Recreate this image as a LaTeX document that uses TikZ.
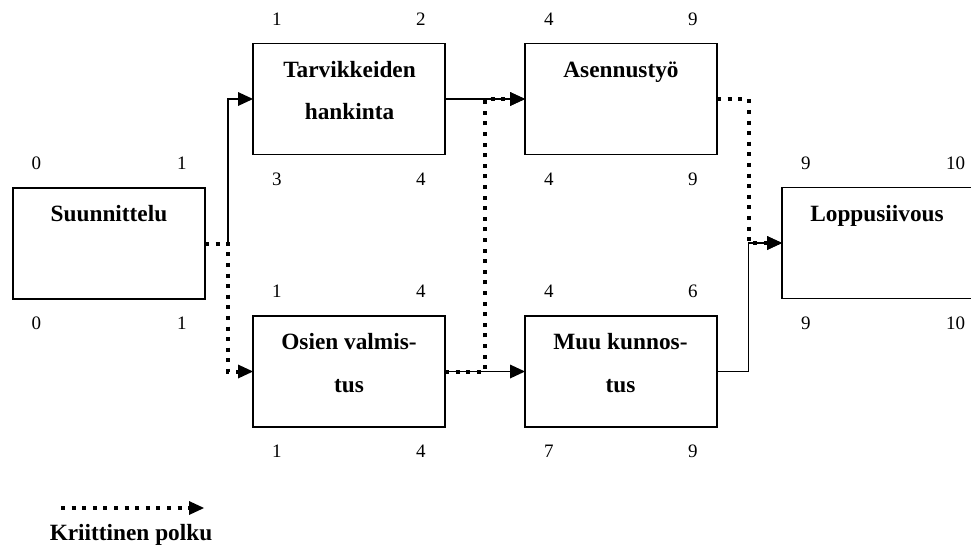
\documentclass[tikz,border=0pt]{standalone}
\usepackage{fontspec}
\setmainfont{Liberation Serif}
\usetikzlibrary{arrows.meta}
\tikzset{
  box/.style={draw, line width=1.8pt, minimum width=192pt, minimum height=111pt, inner sep=0pt, outer sep=0pt},
  title/.style={anchor=base, inner sep=0pt, font=\fontsize{23.3}{28}\selectfont\bfseries},
  num/.style={anchor=base west, inner sep=0pt, font=\fontsize{19}{23}\selectfont},
  tip/.style={-{Triangle[length=15pt,width=14pt,line width=0pt]}},
  conn/.style={tip, line width=1.3pt},
  crit/.style={tip, line width=4pt, line cap=butt, dash pattern=on 4pt off 6.6pt},
}
\begin{document}
\begin{tikzpicture}[x=1pt,y=-1pt]
\useasboundingbox (0,0) rectangle (971,547);
% boxes
\node[box] (s) at (109,243.5) {};
\node[box] (t) at (349,99) {};
\node[box] (a) at (621,99) {};
\node[box] (o) at (349,371.5) {};
\node[box] (m) at (621,371.5) {};
\node[box] (l) at (878,243) {};
% titles
\node[title] (s1) at (109,221) {Suunnittelu};
\node[title] (t1) at (349.5,77) {Tarvikkeiden};
\node[title] (t2) at (349.5,119) {hankinta};
\node[title] (a1) at (621,77) {Asennustyö};
\node[title] (o1) at (349,349) {Osien valmis-};
\node[title] (o2) at (349,392) {tus};
\node[title] (m1) at (620.5,349) {Muu kunnos-};
\node[title] (m2) at (620.5,392) {tus};
\node[title] (l1) at (877,221) {Loppusiivous};
% numbers
\node[num] (sa) at (31.5,169) {0};  \node[num] (sb) at (177,169) {1};
\node[num] (sc) at (31.5,329) {0};  \node[num] (sd) at (177,329) {1};
\node[num] (ta) at (272,25) {1};    \node[num] (tb) at (416,25) {2};
\node[num] (tc) at (272,185) {3};   \node[num] (td) at (416,185) {4};
\node[num] (aa) at (544,25) {4};    \node[num] (ab) at (688,25) {9};
\node[num] (ac) at (544,185) {4};   \node[num] (ad) at (688,185) {9};
\node[num] (oa) at (272,297) {1};   \node[num] (ob) at (416,297) {4};
\node[num] (oc) at (272,457) {1};   \node[num] (od) at (416,457) {4};
\node[num] (ma) at (544,297) {4};   \node[num] (mb) at (688,297) {6};
\node[num] (mc) at (544,457) {7};   \node[num] (md) at (688,457) {9};
\node[num] (la) at (801,169) {9};   \node[num] (lb) at (946,169) {10};
\node[num] (lc) at (801,329) {9};   \node[num] (ld) at (946,329) {10};
% junctions
\coordinate (j1) at (228,243.5);
\coordinate (j2) at (485,371.5);
\coordinate (j3) at (748.5,243);
% solid connectors
\draw[conn] (j1) |- (t.west);
\draw[conn] (t.east) -- (a.west);
\draw[conn] (o.east) -- (m.west);
\draw[conn] (m.east) -| (j3) -- (l.west);
% critical path
\draw[crit] (s.east) -- (j1) |- (o.west);
\draw[crit] (o.east) -- (j2) |- (a.west);
\draw[crit] (a.east) -| (j3) -- (l.west);
% legend
\coordinate (lg1) at (61,508);
\coordinate (lg2) at (204,508);
\draw[crit] (lg1) -- (lg2);
\node[title] (lgt) at (131,540) {Kriittinen polku};
\end{tikzpicture}
\end{document}
